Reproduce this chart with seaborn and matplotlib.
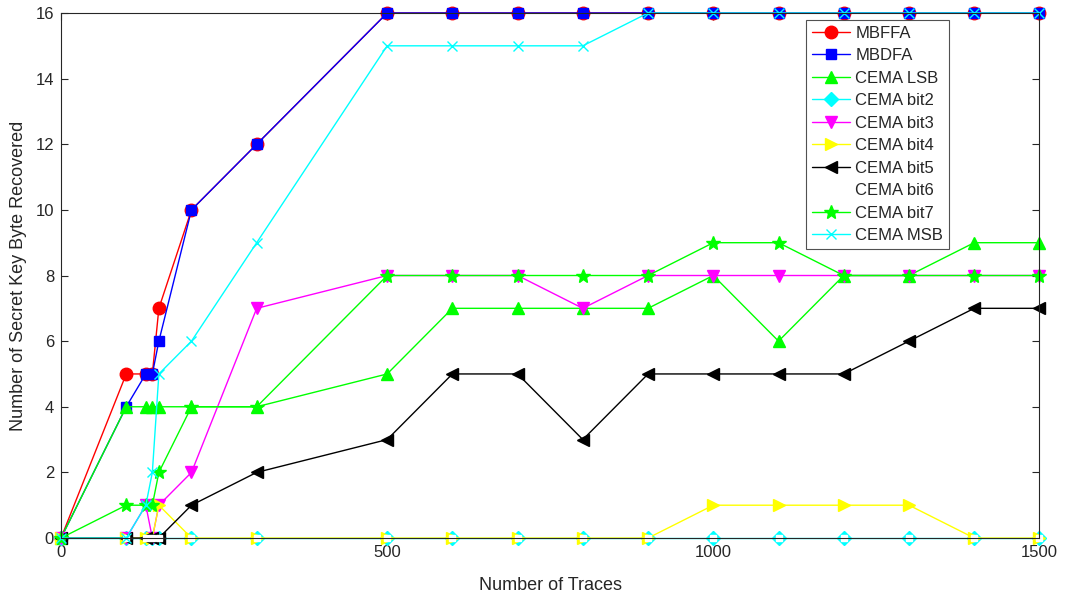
import matplotlib
matplotlib.use("Agg")
import matplotlib.pyplot as plt
import seaborn as sns
import pandas as pd

# Number of traces used for each attack run
traces = [0, 100, 130, 140, 150, 200, 300, 500, 600, 700, 800, 900,
          1000, 1100, 1200, 1300, 1400, 1500]

# Recovered key bytes per method
mbffa     = [0, 5, 5, 5, 7, 10, 12, 16, 16, 16, 16, 16, 16, 16, 16, 16, 16, 16]
mbdfa     = [0, 4, 5, 5, 6, 10, 12, 16, 16, 16, 16, 16, 16, 16, 16, 16, 16, 16]
cema_lsb  = [0, 4, 4, 4, 4, 4, 4, 5, 7, 7, 7, 7, 8, 6, 8, 8, 9, 9]
cema_bit2 = [0, 0, 0, 0, 0, 0, 0, 0, 0, 0, 0, 0, 0, 0, 0, 0, 0, 0]
cema_bit3 = [0, 0, 1, 0, 1, 2, 7, 8, 8, 8, 7, 8, 8, 8, 8, 8, 8, 8]
cema_bit4 = [0, 0, 0, 0, 1, 0, 0, 0, 0, 0, 0, 0, 1, 1, 1, 1, 0, 0]
cema_bit5 = [0, 0, 0, 0, 0, 1, 2, 3, 5, 5, 3, 5, 5, 5, 5, 6, 7, 7]
cema_bit6 = [0, 0, 0, 0, 0, 0, 0, 0, 0, 0, 0, 0, 0, 0, 0, 0, 0, 0]
cema_bit7 = [0, 1, 1, 1, 2, 4, 4, 8, 8, 8, 8, 8, 9, 9, 8, 8, 8, 8]
cema_msb  = [0, 0, 1, 2, 5, 6, 9, 15, 15, 15, 15, 16, 16, 16, 16, 16, 16, 16]

series_names = ["MBFFA", "MBDFA", "CEMA LSB", "CEMA bit2", "CEMA bit3",
                "CEMA bit4", "CEMA bit5", "CEMA bit6", "CEMA bit7", "CEMA MSB"]
series_values = [mbffa, mbdfa, cema_lsb, cema_bit2, cema_bit3,
                 cema_bit4, cema_bit5, cema_bit6, cema_bit7, cema_msb]

styles = {
    "MBFFA":     dict(color="#FF0000", marker="o", ms=9),
    "MBDFA":     dict(color="#0000FF", marker="s", ms=7),
    "CEMA LSB":  dict(color="#00FF00", marker="^", ms=9),
    "CEMA bit2": dict(color="#00FFFF", marker="D", ms=7),
    "CEMA bit3": dict(color="#FF00FF", marker="v", ms=9),
    "CEMA bit4": dict(color="#FFFF00", marker=">", ms=9),
    "CEMA bit5": dict(color="#000000", marker="<", ms=9),
    "CEMA bit6": dict(color="#FFFFFF", marker="s", ms=4.5),
    "CEMA bit7": dict(color="#00FF00", marker="*", ms=10),
    "CEMA MSB":  dict(color="#00FFFF", marker="x", ms=7),
}

df = pd.DataFrame({
    "traces": traces * len(series_names),
    "bytes": [v for vals in series_values for v in vals],
    "method": [n for n in series_names for _ in traces],
})

sns.set_style("white")
plt.rcParams["font.family"] = ["Liberation Sans", "DejaVu Sans"]

fig = plt.figure(figsize=(10.65, 5.99), dpi=100)
ax = fig.add_axes([0.0573, 0.1018, 0.9187, 0.8765])

for name in series_names:
    st = styles[name]
    sub = df[df["method"] == name]
    if name == "CEMA bit6":
        # white trace: a translucent line plus opaque white markers
        sns.lineplot(data=sub, x="traces", y="bytes", ax=ax, color="white",
                     linewidth=1.0, alpha=0.35, label=name, sort=False,
                     estimator=None, clip_on=False)
        ax.plot(sub["traces"], sub["bytes"], linestyle="none", marker="s",
                ms=st["ms"], mfc="white", mec="white", clip_on=False)
        continue
    mfc = st["color"] if st["marker"] not in ("x",) else "none"
    sns.lineplot(data=sub, x="traces", y="bytes", ax=ax, color=st["color"],
                 linewidth=1.0, marker=st["marker"], markersize=st["ms"],
                 markerfacecolor=mfc, markeredgecolor=st["color"],
                 markeredgewidth=1.0, label=name, sort=False,
                 estimator=None, clip_on=False)

ax.set_xlim(0, 1500)
ax.set_ylim(0, 16)
ax.set_xticks([0, 500, 1000, 1500])
ax.set_yticks(list(range(0, 17, 2)))
ax.tick_params(direction="in", length=5, width=0.8, colors="#262626",
               labelsize=12, top=True, right=True, bottom=True, left=True,
               pad=5)
for sp in ax.spines.values():
    sp.set_color("#262626")
    sp.set_linewidth(0.8)
    sp.set_visible(True)

ax.set_xlabel("Number of Traces", fontsize=13, color="#262626", labelpad=12)
ax.set_ylabel("Number of Secret Key Byte Recovered", fontsize=13,
              color="#262626", labelpad=6)

leg = ax.legend(loc="upper right", bbox_to_anchor=(0.9075, 0.987),
                fontsize=12, frameon=True, fancybox=False, handlelength=2.3,
                handletextpad=0.3, labelspacing=0.45, borderpad=0.35,
                borderaxespad=0)
leg.get_frame().set_edgecolor("#262626")
leg.get_frame().set_linewidth(0.8)
leg.set_zorder(10)

fig.savefig("out.png", dpi=100)
